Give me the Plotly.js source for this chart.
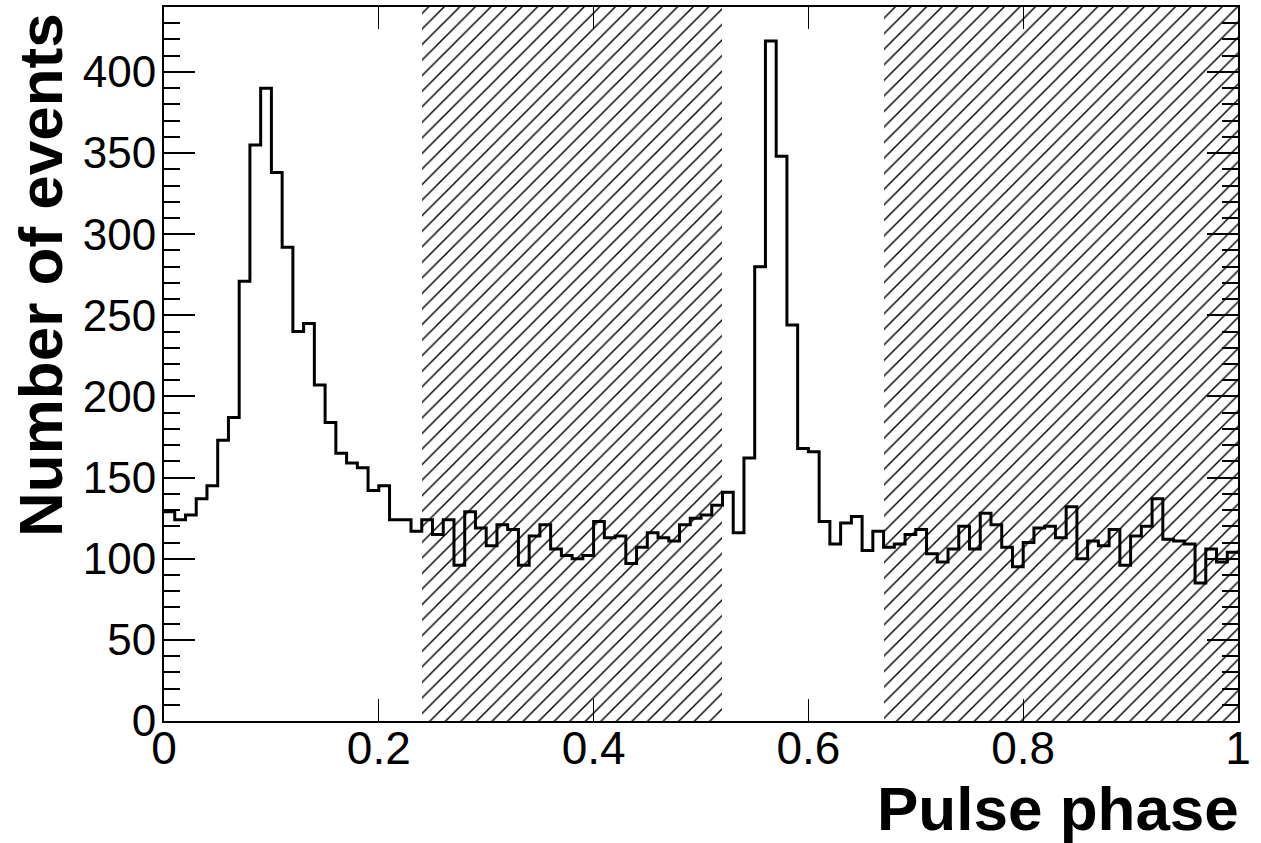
<!DOCTYPE html>
<html>
<head>
<meta charset="utf-8">
<script src="https://cdn.plot.ly/plotly-3.0.1.min.js"></script>
<style>
  html, body { margin: 0; padding: 0; background: #ffffff; }
  #chart { width: 1261px; height: 843px; }
</style>
</head>
<body>
<div id="chart"></div>
<script>
// Histogram definition: 100 bins over pulse phase [0, 1]
const phaseMin = 0;
const phaseMax = 1;
const counts = [
  129, 124, 127, 137, 145, 173, 187, 271, 355, 390,
  338, 292, 240, 245, 207, 184, 165, 159, 156, 142,
  145, 124, 124, 117, 124, 115, 124,  96, 129, 119,
  108, 121, 118,  96, 114, 121, 106, 102, 100, 102,
  123, 113, 114,  97, 107, 116, 113, 111, 121, 125,
  127, 133, 141, 116, 162, 280, 419, 348, 244, 168,
  166, 123, 109, 122, 126, 105, 117, 107, 109, 115,
  118, 103,  98, 106, 120, 106, 128, 121, 107,  95,
  110, 119, 120, 113, 132, 100, 111, 108, 118,  96,
  114, 120, 137, 112, 111, 109,  85, 106,  98, 104
];
// Hatched (off-pulse) phase intervals
const hatchStart = [0.24, 0.67];
const hatchEnd   = [0.52, 1.00];
const yMax = 440;
const xTickVals = [0, 0.2, 0.4, 0.6, 0.8, 1];
const yTickVals = [0, 50, 100, 150, 200, 250, 300, 350, 400];
const xTitle = 'Pulse phase';
const yTitle = 'Number of events';

const nBins = counts.length;
const binW = (phaseMax - phaseMin) / nBins;
const edges = [];
for (let i = 0; i <= nBins; i++) edges.push(phaseMin + i * binW);
const stepY = counts.concat([counts[nBins - 1]]);

const FONT = 'Liberation Sans, Arial, Helvetica, sans-serif';

const hatch = {
  type: 'bar',
  x: hatchStart.map((s, i) => (s + hatchEnd[i]) / 2),
  y: hatchStart.map(() => yMax),
  width: hatchStart.map((s, i) => hatchEnd[i] - s),
  marker: {
    color: 'rgba(0,0,0,0)',
    line: { width: 0 },
    pattern: { shape: '/', fgcolor: '#000000', bgcolor: 'rgba(0,0,0,0)', size: 11, solidity: 0.13 }
  },
  hoverinfo: 'skip',
  showlegend: false
};

const hist = {
  type: 'scatter',
  mode: 'lines',
  x: edges,
  y: stepY,
  line: { shape: 'hv', color: '#000000', width: 3 },
  showlegend: false
};

const layout = {
  width: 1261,
  height: 843,
  margin: { l: 164, r: 23, t: 7, b: 122, pad: 0 },
  paper_bgcolor: '#ffffff',
  plot_bgcolor: '#ffffff',
  barmode: 'overlay',
  bargap: 0,
  showlegend: false,
  font: { family: FONT, color: '#000000' },
  xaxis: {
    range: [phaseMin, phaseMax],
    tickvals: xTickVals,
    ticktext: xTickVals.map(String),
    ticks: 'inside',
    ticklen: 22,
    tickwidth: 1,
    tickcolor: '#000000',
    ticklabelstandoff: -14,
    showline: true,
    linewidth: 2,
    linecolor: '#000000',
    mirror: 'allticks',
    showgrid: false,
    zeroline: false,
    tickfont: { family: FONT, size: 46, color: '#000000' },
    fixedrange: true
  },
  yaxis: {
    range: [0, yMax],
    tickvals: yTickVals,
    ticks: 'inside',
    ticklen: 31,
    tickwidth: 2,
    tickcolor: '#000000',
    ticklabelstandoff: -3,
    minor: { dtick: 10, ticks: 'inside', ticklen: 16, tickwidth: 2, tickcolor: '#000000' },
    showline: true,
    linewidth: 2,
    linecolor: '#000000',
    mirror: 'allticks',
    showgrid: false,
    zeroline: false,
    tickfont: { family: FONT, size: 44, color: '#000000' },
    fixedrange: true
  },
  annotations: [
    {
      text: '<b>' + xTitle + '</b>',
      xref: 'paper', yref: 'paper',
      x: 1, y: -0.118,
      xanchor: 'right', yanchor: 'middle',
      xshift: 3, yshift: -3,
      showarrow: false,
      font: { family: FONT, size: 62, color: '#000000' }
    },
    {
      text: '<b>' + yTitle + '</b>',
      xref: 'paper', yref: 'paper',
      x: -0.1155, y: 1,
      xanchor: 'center', yanchor: 'top',
      textangle: -90,
      yshift: -4,
      showarrow: false,
      font: { family: FONT, size: 62, color: '#000000' }
    }
  ]
};

Plotly.newPlot('chart', [hatch, hist], layout, { displayModeBar: false, staticPlot: true });
</script>
</body>
</html>
